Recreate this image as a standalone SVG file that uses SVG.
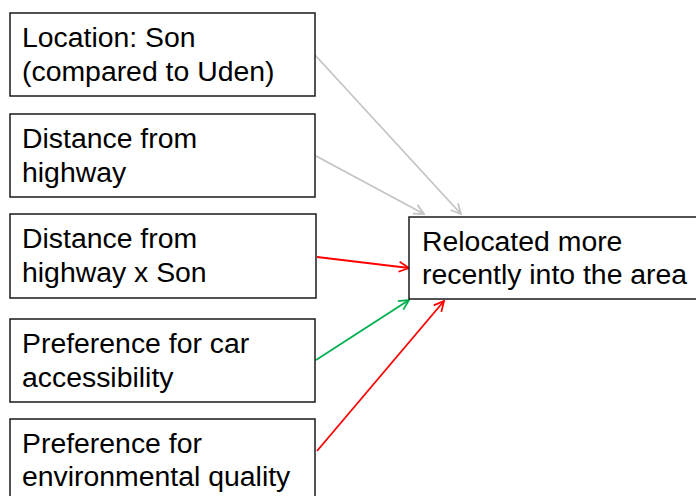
<svg xmlns="http://www.w3.org/2000/svg" width="696" height="496" viewBox="0 0 696 496">
<style>
.box{fill:#fff;stroke:#1a1a1a;stroke-width:1.5}
.t{font-family:"Liberation Sans",Arial,sans-serif;font-size:28.4px;fill:#000}
.c{fill:none;stroke-width:1.8}
.gray{stroke:#c4c4c4}
.red{stroke:#ff0000}
.green{stroke:#00b050}
</style>
<defs>
<marker id="ag" viewBox="0 0 12 12" refX="11" refY="6" markerWidth="12" markerHeight="12" markerUnits="userSpaceOnUse" orient="auto"><path d="M1,1 L11,6 L1,11" fill="none" stroke="#c4c4c4" stroke-width="1.8"/></marker>
<marker id="ar" viewBox="0 0 12 12" refX="11" refY="6" markerWidth="12" markerHeight="12" markerUnits="userSpaceOnUse" orient="auto"><path d="M1,1 L11,6 L1,11" fill="none" stroke="#ff0000" stroke-width="1.8"/></marker>
<marker id="agr" viewBox="0 0 12 12" refX="11" refY="6" markerWidth="12" markerHeight="12" markerUnits="userSpaceOnUse" orient="auto"><path d="M1,1 L11,6 L1,11" fill="none" stroke="#00b050" stroke-width="1.8"/></marker>
</defs>
<rect width="696" height="496" fill="#fff"/>
<g id="connectors">
<line class="c gray" x1="315" y1="55" x2="461" y2="214" marker-end="url(#ag)"/>
<line class="c gray" x1="316" y1="156" x2="424" y2="214" marker-end="url(#ag)"/>
<line class="c red" x1="317" y1="257" x2="409" y2="268" marker-end="url(#ar)"/>
<line class="c green" x1="316" y1="360" x2="409" y2="300" marker-end="url(#agr)"/>
<line class="c red" x1="317" y1="451" x2="444" y2="301" marker-end="url(#ar)"/>
</g>
<g id="n1"><rect class="box" x="10" y="13" width="305" height="83"/><text class="t" x="22" y="47">Location: Son</text><text class="t" x="22" y="81">(compared to Uden)</text></g>
<g id="n2"><rect class="box" x="10" y="114" width="305" height="83"/><text class="t" x="22" y="148">Distance from</text><text class="t" x="22" y="182">highway</text></g>
<g id="n3"><rect class="box" x="10" y="214" width="306" height="84"/><text class="t" x="22" y="248">Distance from</text><text class="t" x="22" y="282">highway x Son</text></g>
<g id="n4"><rect class="box" x="10" y="319" width="305" height="83"/><text class="t" x="22" y="353">Preference for car</text><text class="t" x="22" y="387">accessibility</text></g>
<g id="n5"><rect class="box" x="10" y="419" width="305" height="90"/><text class="t" x="22" y="453">Preference for</text><text class="t" x="22" y="486">environmental quality</text></g>
<g id="target"><rect class="box" x="409" y="217" width="300" height="82"/><text class="t" x="422" y="251">Relocated more</text><text class="t" x="422" y="284">recently into the area</text></g>
</svg>
